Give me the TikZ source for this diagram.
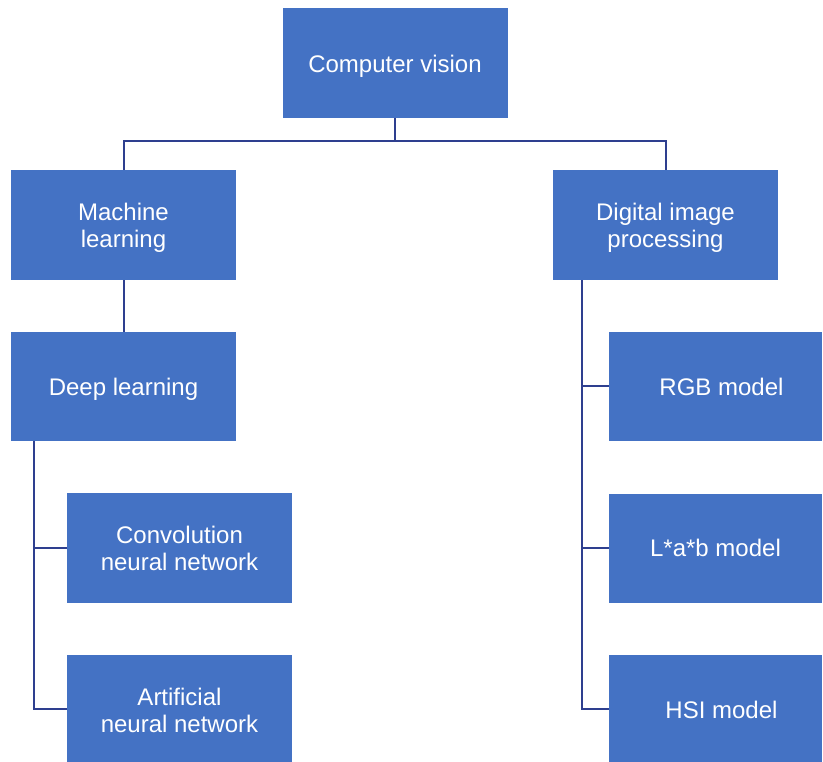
\documentclass[tikz,border=0pt]{standalone}
\usepackage{fontspec}
\setmainfont{Liberation Sans}
\usetikzlibrary{calc}
\definecolor{boxblue}{HTML}{4472C4}
\definecolor{linkblue}{HTML}{2E3F8F}
\begin{document}
\begin{tikzpicture}[x=1pt,y=-1pt,
  box/.style={fill=boxblue, draw=none, inner sep=0pt},
  wide/.style={box, minimum width=225pt, minimum height=110pt},
  narrow/.style={box, minimum width=213pt, minimum height=109pt},
  lbl/.style={text=white, align=center, inner sep=0pt,
    font=\fontsize{24}{27}\selectfont},
  link/.style={draw=linkblue, line width=2pt}]
\useasboundingbox (0,0) rectangle (823,762);
\node[wide] (cv) at (395,63) {};
\node[wide] (ml) at (123.5,225) {};
\node[wide] (dip) at (665.5,225) {};
\node[wide, minimum height=109pt] (dl) at (123.5,386.5) {};
\node[wide] (cnn) at (179.5,548) {};
\node[wide, minimum height=107pt] (ann) at (179.5,708.5) {};
\node[narrow] (rgb) at (715.5,386.5) {};
\node[narrow] (lab) at (715.5,548) {};
\node[narrow, minimum height=107pt] (hsi) at (715.5,708.5) {};
\node[lbl] (tcv) at ($(cv.center)+(0,3)$) {Computer vision};
\node[lbl] (tml) at ($(ml.center)+(0,3)$) {Machine\\learning};
\node[lbl] (tdip) at ($(dip.center)+(0,3)$) {Digital image\\processing};
\node[lbl] (tdl) at ($(dl.center)+(0,3)$) {Deep learning};
\node[lbl] (tcnn) at ($(cnn.center)+(0,0)$) {Convolution\\neural network};
\node[lbl] (tann) at ($(ann.center)+(0,1.5)$) {Artificial\\neural network};
\node[lbl] (trgb) at ($(rgb.center)+(6,0)$) {RGB model};
\node[lbl] (tlab) at ($(lab.center)+(0,0)$) {L*a*b model};
\node[lbl] (thsi) at ($(hsi.center)+(6,1)$) {HSI model};
\coordinate (hub) at ($(cv.south)+(0,23)$);
\coordinate (dlrail) at ($(dl.south west)+(23,0)$);
\coordinate (diprail) at ($(dip.south west)+(29,0)$);
\draw[link] (cv.south) -- (hub) -| (ml.north);
\draw[link] (hub) -| (dip.north);
\draw[link] (ml.south) -- (dl.north);
\draw[link] (dlrail) |- (cnn.west);
\draw[link] (dlrail) |- (ann.west);
\draw[link] (diprail) |- (rgb.west);
\draw[link] (diprail) |- (lab.west);
\draw[link] (diprail) |- (hsi.west);
\end{tikzpicture}
\end{document}
